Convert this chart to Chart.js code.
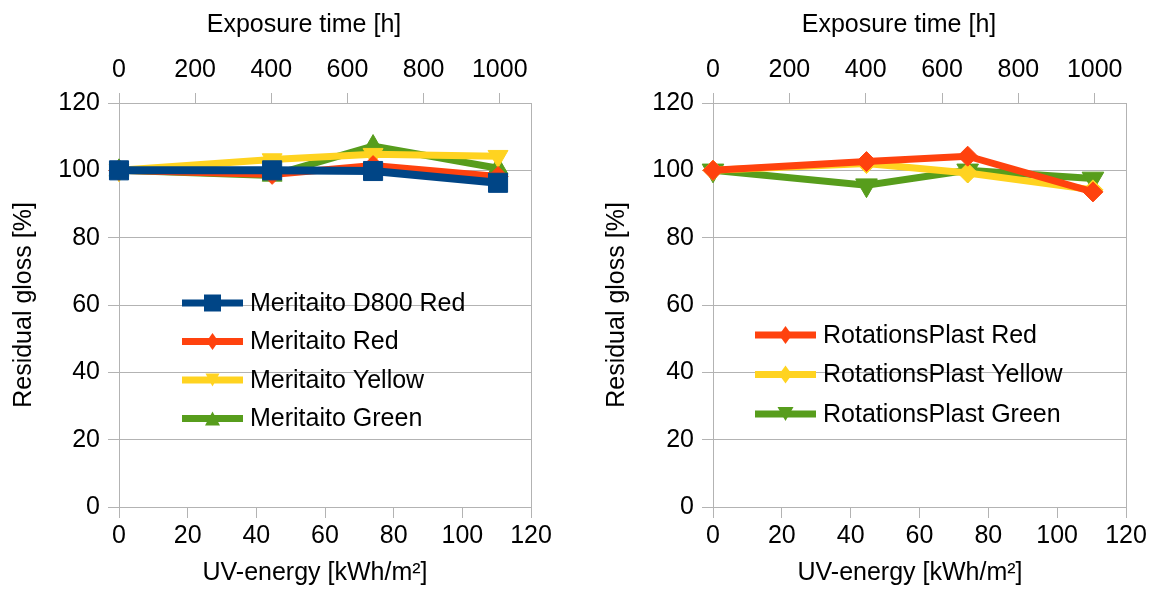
<!DOCTYPE html>
<html>
<head>
<meta charset="utf-8">
<script src="https://cdn.jsdelivr.net/npm/chart.js@4.4.1/dist/chart.umd.min.js"></script>
<style>
    html, body { margin: 0; padding: 0; background: #ffffff; }
    #wrap { position: relative; width: 1165px; height: 590px; }
    .box { position: absolute; top: 0; height: 590px; }
    canvas { display: block; }
</style>
</head>
<body>
<div id="wrap">
    <div class="box" style="left:0;width:582px"><canvas id="leftChart" width="582" height="590"></canvas></div>
    <div class="box" style="left:582px;width:583px"><canvas id="rightChart" width="583" height="590"></canvas></div>
</div>
<script>
/* ===============================
   DATA
================================ */
const uvEnergy = [0, 44.6, 74, 110.4];            // kWh/m2
const hourTicks = [0, 200, 400, 600, 800, 1000];  // top axis labels
const uvTicks = [0, 20, 40, 60, 80, 100, 120];
const glossTicks = [0, 20, 40, 60, 80, 100, 120];

const leftLabels = ["Meritaito D800 Red", "Meritaito Red", "Meritaito Yellow", "Meritaito Green"];
const meritaitoD800Red = [100, 100, 99.8, 96.3];
const meritaitoRed = [100, 98.8, 101.4, 98.2];
const meritaitoYellow = [100, 103.2, 104.8, 104.2];
const meritaitoGreen = [100, 98.5, 107.2, 100.6];

const rightLabels = ["RotationsPlast Red", "RotationsPlast Yellow", "RotationsPlast Green"];
const rotationsRed = [100, 102.6, 104.2, 93.6];
const rotationsYellow = [100, 102, 99.2, 94.2];
const rotationsGreen = [100, 95.6, 100, 97.6];

/* ===============================
   STYLE
================================ */
const GRID = "#b3b3b3";
const FONT = "'Liberation Sans', Arial, sans-serif";
const FONT_SIZE = 25;
const BLUE = "#004586";
const RED = "#ff420e";
const YELLOW = "#ffd320";
const GREEN = "#579d1c";

Chart.defaults.font.family = FONT;
Chart.defaults.font.size = FONT_SIZE;
Chart.defaults.color = "#000000";

/* ===============================
   HELPERS
================================ */
function series(label, values, color, marker, radius, rotation, width) {
    return {
        label: label,
        data: uvEnergy.map((x, i) => ({ x: x, y: values[i] })),
        borderColor: color,
        backgroundColor: color,
        borderWidth: width || 7,
        pointStyle: marker,
        pointRadius: radius,
        pointHoverRadius: radius,
        pointRotation: rotation || 0,
        pointBackgroundColor: color,
        pointBorderColor: color,
        pointBorderWidth: 1,
        tension: 0,
        clip: false
    };
}

function drawMarker(ctx, type, x, y, w, h, color) {
    ctx.fillStyle = color;
    ctx.beginPath();
    if (type === "rect") {
        ctx.rect(x - w / 2, y - h / 2, w, h);
    } else if (type === "diamond") {
        ctx.moveTo(x, y - h / 2);
        ctx.lineTo(x + w / 2, y);
        ctx.lineTo(x, y + h / 2);
        ctx.lineTo(x - w / 2, y);
    } else if (type === "triUp") {
        ctx.moveTo(x, y - h / 2);
        ctx.lineTo(x + w / 2, y + h / 2);
        ctx.lineTo(x - w / 2, y + h / 2);
    } else {
        ctx.moveTo(x - w / 2, y - h / 2);
        ctx.lineTo(x + w / 2, y - h / 2);
        ctx.lineTo(x, y + h / 2);
    }
    ctx.closePath();
    ctx.fill();
}

/* ===============================
   PLUGINS
================================ */
const frameRight = {
    id: "frameRight",
    beforeDatasetsDraw(chart) {
        const a = chart.chartArea;
        const ctx = chart.ctx;
        ctx.save();
        ctx.strokeStyle = GRID;
        ctx.lineWidth = 1;
        ctx.beginPath();
        ctx.moveTo(Math.round(a.right) + 0.5, a.top);
        ctx.lineTo(Math.round(a.right) + 0.5, a.bottom);
        ctx.stroke();
        ctx.restore();
    }
};

const axisTitles = {
    id: "axisTitles",
    afterDraw(chart, args, opts) {
        const ctx = chart.ctx;
        ctx.save();
        ctx.fillStyle = "#000000";
        ctx.font = FONT_SIZE + "px " + FONT;
        ctx.textAlign = "center";
        ctx.textBaseline = "alphabetic";
        ctx.fillText(opts.top.text, opts.top.x, opts.top.y);
        ctx.fillText(opts.bottom.text, opts.bottom.x, opts.bottom.y);
        ctx.translate(opts.left.x, opts.left.y);
        ctx.rotate(-Math.PI / 2);
        ctx.textBaseline = "middle";
        ctx.fillText(opts.left.text, 0, 0);
        ctx.restore();
    }
};

const insideLegend = {
    id: "insideLegend",
    afterDatasetsDraw(chart, args, opts) {
        const ctx = chart.ctx;
        ctx.save();
        chart.data.datasets.forEach((ds, i) => {
            const y = opts.y + i * opts.gap;
            const m = opts.markers[i];
            ctx.strokeStyle = ds.borderColor;
            ctx.lineWidth = 7;
            ctx.beginPath();
            ctx.moveTo(opts.x, y);
            ctx.lineTo(opts.x + 61, y);
            ctx.stroke();
            drawMarker(ctx, m.type, opts.x + 30.5, y, m.w, m.h, ds.borderColor);
            ctx.fillStyle = "#000000";
            ctx.font = FONT_SIZE + "px " + FONT;
            ctx.textAlign = "left";
            ctx.textBaseline = "middle";
            ctx.fillText(ds.label, opts.x + 68, y + 1);
        });
        ctx.restore();
    }
};

/* ===============================
   SCALES
================================ */
function buildScales(yWidth) {
    return {
        x: {
            type: "linear",
            position: "bottom",
            min: 0,
            max: 120,
            afterBuildTicks: s => { s.ticks = uvTicks.map(v => ({ value: v })); },
            ticks: { padding: 3, maxRotation: 0, autoSkip: false, callback: v => String(v) },
            grid: { drawOnChartArea: false, color: GRID, tickLength: 11 },
            border: { color: GRID },
            afterFit: s => { s.height = 83; }
        },
        xTop: {
            type: "linear",
            position: "top",
            min: 0,
            max: 1082,
            afterBuildTicks: s => { s.ticks = hourTicks.map(v => ({ value: v })); },
            ticks: { padding: 8, maxRotation: 0, autoSkip: false, callback: v => String(v) },
            grid: { drawOnChartArea: false, color: GRID, tickLength: 10 },
            border: { color: GRID },
            afterFit: s => { s.height = 103; }
        },
        y: {
            type: "linear",
            min: 0,
            max: 120,
            afterBuildTicks: s => { s.ticks = glossTicks.map(v => ({ value: v })); },
            ticks: { padding: 8, autoSkip: false, callback: v => String(v) },
            grid: { color: GRID, tickLength: 11 },
            border: { color: GRID },
            afterFit: s => { s.width = yWidth; }
        }
    };
}

/* ===============================
   LEFT CHART
================================ */
function loadLeftChart() {
    const ctx = document.getElementById("leftChart");
    if (!ctx) return;

    new Chart(ctx, {
        type: "line",
        data: {
            datasets: [
                series(leftLabels[0], meritaitoD800Red, BLUE, "rect", 13.5, 0, 8),
                series(leftLabels[1], meritaitoRed, RED, "rectRot", 10),
                series(leftLabels[2], meritaitoYellow, YELLOW, "triangle", 11.5, 180),
                series(leftLabels[3], meritaitoGreen, GREEN, "triangle", 11.5)
            ]
        },
        options: {
            responsive: false,
            animation: false,
            layout: { padding: { left: 0, right: 51, top: 0, bottom: 0 } },
            scales: buildScales(119),
            plugins: {
                legend: { display: false },
                tooltip: { enabled: false },
                axisTitles: {
                    top: { text: "Exposure time [h]", x: 304, y: 32 },
                    bottom: { text: "UV-energy [kWh/m²]", x: 315, y: 580 },
                    left: { text: "Residual gloss [%]", x: 24, y: 305 }
                },
                insideLegend: {
                    x: 182, y: 303, gap: 38.5,
                    markers: [
                        { type: "rect", w: 17, h: 17 },
                        { type: "diamond", w: 12, h: 17 },
                        { type: "triDown", w: 14, h: 13 },
                        { type: "triUp", w: 15, h: 14 }
                    ]
                }
            }
        },
        plugins: [frameRight, axisTitles, insideLegend]
    });
}

/* ===============================
   RIGHT CHART
================================ */
function loadRightChart() {
    const ctx = document.getElementById("rightChart");
    if (!ctx) return;

    new Chart(ctx, {
        type: "line",
        data: {
            datasets: [
                series(rightLabels[0], rotationsRed, RED, "rectRot", 10),
                series(rightLabels[1], rotationsYellow, YELLOW, "rectRot", 10),
                series(rightLabels[2], rotationsGreen, GREEN, "triangle", 12.5, 180)
            ]
        },
        options: {
            responsive: false,
            animation: false,
            layout: { padding: { left: 0, right: 39, top: 0, bottom: 0 } },
            scales: buildScales(131),
            plugins: {
                legend: { display: false },
                tooltip: { enabled: false },
                axisTitles: {
                    top: { text: "Exposure time [h]", x: 317, y: 32 },
                    bottom: { text: "UV-energy [kWh/m²]", x: 328, y: 580 },
                    left: { text: "Residual gloss [%]", x: 35, y: 305 }
                },
                insideLegend: {
                    x: 173, y: 335, gap: 39.5,
                    markers: [
                        { type: "diamond", w: 13, h: 18 },
                        { type: "diamond", w: 13, h: 18 },
                        { type: "triDown", w: 16, h: 14 }
                    ]
                }
            }
        },
        plugins: [frameRight, axisTitles, insideLegend]
    });
}

/* ===============================
   INIT
================================ */
loadLeftChart();
loadRightChart();
</script>
</body>
</html>
